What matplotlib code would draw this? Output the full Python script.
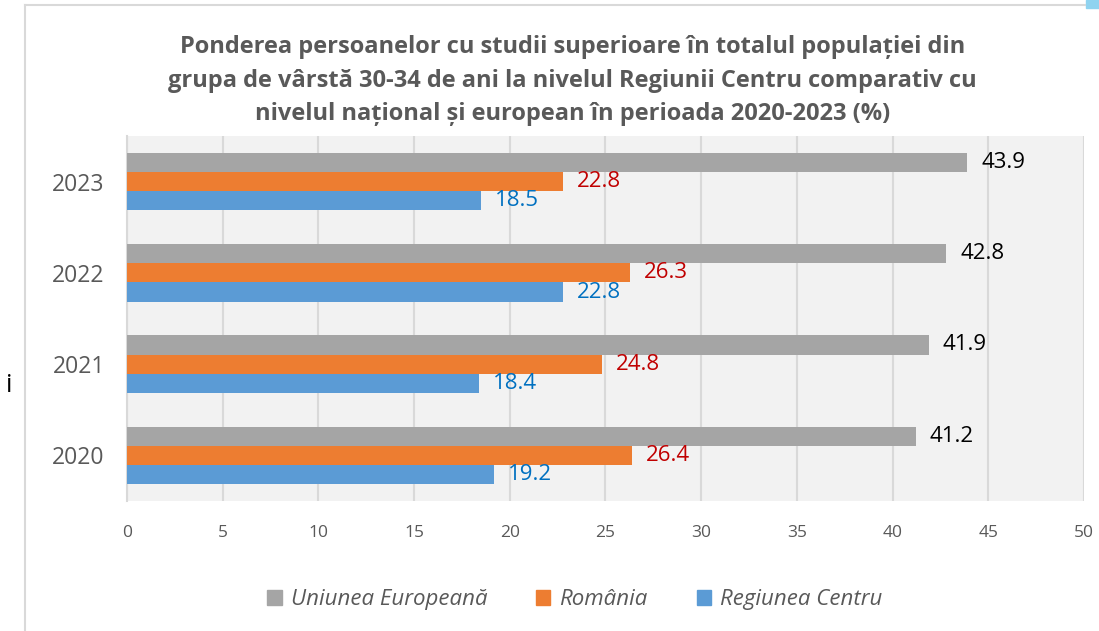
import numpy as np
import matplotlib.pyplot as plt
from matplotlib.patches import Patch, Rectangle
from matplotlib.lines import Line2D

plt.rcParams['font.family'] = ['Open Sans', 'DejaVu Sans']

years = ['2020', '2021', '2022', '2023']
ue = [41.2, 41.9, 42.8, 43.9]
romania = [26.4, 24.8, 26.3, 22.8]
centru = [19.2, 18.4, 22.8, 18.5]

c_ue = '#a5a5a5'
c_ro = '#ed7d31'
c_ce = '#5b9bd5'

fig = plt.figure(figsize=(10.99, 6.31), dpi=100)
ax = fig.add_axes([0.1156, 0.206, 0.8707, 0.5785])
ax.set_facecolor('#f2f2f2')

y = np.arange(len(years))
h = 0.21
b1 = ax.barh(y + h, ue, height=h, color=c_ue, zorder=3)
b2 = ax.barh(y, romania, height=h, color=c_ro, zorder=3)
b3 = ax.barh(y - h, centru, height=h, color=c_ce, zorder=3)

for bars, vals, col in [(b1, ue, 'black'), (b2, romania, '#c00000'), (b3, centru, '#0070c0')]:
    for bar, v in zip(bars, vals):
        ax.annotate(f'{v:.1f}', (v, bar.get_y() + bar.get_height() / 2),
                    xytext=(10, 0), textcoords='offset points',
                    va='center', ha='left', fontsize=16, color=col, zorder=4)

ax.set_xlim(0, 50)
ax.set_ylim(-0.5, 3.5)
ax.set_xticks(np.arange(0, 51, 5))
ax.set_yticks(y)
ax.set_yticklabels(years)
ax.tick_params(axis='x', length=0, labelsize=12.5, colors='#595959', pad=17)
ax.tick_params(axis='y', length=0, labelsize=16.5, colors='#595959', pad=16)
ax.grid(axis='x', color='#d9d9d9', linewidth=1.5, zorder=0)
for s in ['top', 'right', 'bottom']:
    ax.spines[s].set_visible(False)
ax.spines['left'].set_color('#d9d9d9')
ax.spines['left'].set_linewidth(1.5)

fig.text(0.521, 0.944,
         'Ponderea persoanelor cu studii superioare în totalul populației din\n'
         'grupa de vârstă 30-34 de ani la nivelul Regiunii Centru comparativ cu\n'
         'nivelul național și european în perioada 2020-2023 (%)',
         ha='center', va='top', fontsize=17, fontweight='bold', color='#595959',
         linespacing=1.52)

handles = [Patch(color=c_ue, label='Uniunea Europeană'),
           Patch(color=c_ro, label='România'),
           Patch(color=c_ce, label='Regiunea Centru')]
leg = fig.legend(handles=handles, loc='center', bbox_to_anchor=(0.523, 0.05), ncol=3,
                 frameon=False, handlelength=0.65, handleheight=0.65, handletextpad=0.4,
                 columnspacing=2.2, prop={'style': 'italic', 'size': 16})
for t in leg.get_texts():
    t.set_color('#595959')

# cadru exterior
fig.add_artist(Line2D([25 / 1099, 25 / 1099], [0, 1 - 5 / 631], color='#d9d9d9', linewidth=1.5))
fig.add_artist(Line2D([25 / 1099, 1085 / 1099], [1 - 5 / 631, 1 - 5 / 631], color='#d9d9d9', linewidth=1.5))
fig.add_artist(Rectangle((1086 / 1099, 1 - 8 / 631), 13 / 1099, 8 / 631, color='#8fd3f0',
                         transform=fig.transFigure))
fig.text(6 / 1099, 1 - 386 / 631, 'i', fontsize=18, color='black', va='center', ha='left')

fig.savefig('out.png', dpi=100)
